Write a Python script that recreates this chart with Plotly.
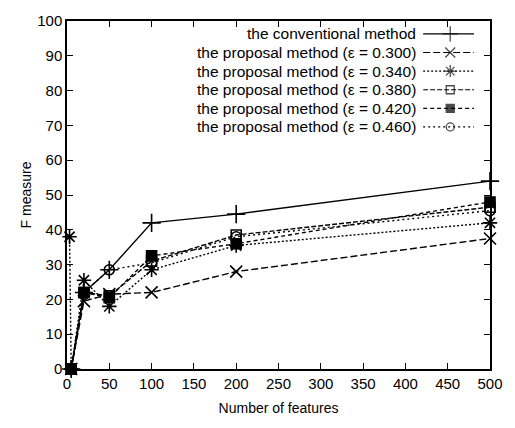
import plotly.graph_objects as go

# ---- data ----
x_features = [5, 20, 50, 100, 200, 500]
conventional = [0, 22, 28.5, 42, 44.5, 54]
eps_300 = [0, 19.5, 21.5, 22, 28, 37.5]
x_eps_340 = [3, 5, 20, 50, 100, 200, 500]
eps_340 = [38, 0, 25.5, 18, 28.5, 35.5, 42]
eps_380 = [0, 22, 21, 31, 38.5, 46.5]
eps_420 = [0, 22, 20.5, 32.5, 36, 48]
eps_460 = [0, 22, 28.5, 30.5, 38, 45.5]

names = [
    "the conventional method",
    "the proposal method (ε = 0.300)",
    "the proposal method (ε = 0.340)",
    "the proposal method (ε = 0.380)",
    "the proposal method (ε = 0.420)",
    "the proposal method (ε = 0.460)",
]
x_ticks = [0, 50, 100, 150, 200, 250, 300, 350, 400, 450, 500]
y_ticks = [0, 10, 20, 30, 40, 50, 60, 70, 80, 90, 100]

series = [
    (x_features, conventional, "cross-thin-open", 13, "solid"),
    (x_features, eps_300, "x-thin-open", 12, "7px,3px"),
    (x_eps_340, eps_340, "asterisk-open", 12, "2px,2px"),
    (x_features, eps_380, "square-open", 10, "5px,2px"),
    (x_features, eps_420, "square", 10, "4px,3px"),
    (x_features, eps_460, "circle-open", 10, "2px,3px"),
]

FONT = "Liberation Sans, Arial, Helvetica, sans-serif"
fig = go.Figure()

for (xs, ys, sym, size, dash), name in zip(series, names):
    fig.add_trace(go.Scatter(
        x=xs, y=ys, mode="lines+markers", name=name,
        line=dict(color="black", width=1.4, dash=dash),
        marker=dict(symbol=sym, size=size, color="black",
                    line=dict(color="black", width=1.6)),
        cliponaxis=False, showlegend=False,
    ))

# ---- custom legend (text right-aligned, sample on the right, like gnuplot) ----
row0 = 0.963
dy = 0.0535
for i, ((xs, ys, sym, size, dash), name) in enumerate(zip(series, names)):
    yy = row0 - i * dy
    fig.add_trace(go.Scatter(
        x=[0.842, 0.906, 0.962], y=[yy, yy, yy], mode="lines+markers",
        xaxis="x2", yaxis="y2", showlegend=False, hoverinfo="skip",
        line=dict(color="black", width=1.2, dash=dash),
        marker=dict(symbol=sym, size=[0, size - 2, 0], color="black",
                    line=dict(color="black", width=1.3)),
    ))
    fig.add_annotation(
        x=0.83, y=yy, xref="paper", yref="paper", text=name,
        showarrow=False, xanchor="right", yanchor="middle",
        font=dict(family=FONT, size=15.5, color="black"),
    )

fig.update_layout(
    width=515, height=428,
    margin=dict(l=67, r=22, t=14, b=59),
    paper_bgcolor="white", plot_bgcolor="white",
    font=dict(family=FONT, size=15, color="black"),
    showlegend=False,
    xaxis=dict(
        range=[0, 500], tickvals=x_ticks, ticktext=[str(v) for v in x_ticks],
        ticks="inside", ticklen=6, tickwidth=1.2, tickcolor="black",
        showline=True, linecolor="black", linewidth=1.5, mirror="ticks",
        showgrid=False, zeroline=False,
        title=dict(text="Number of features", font=dict(size=14), standoff=12),
    ),
    yaxis=dict(
        range=[0, 100], tickvals=y_ticks, ticktext=[str(v) for v in y_ticks],
        ticks="inside", ticklen=6, tickwidth=1.2, tickcolor="black",
        showline=True, linecolor="black", linewidth=1.5, mirror="ticks",
        showgrid=False, zeroline=False,
        title=dict(text="F measure", font=dict(size=14), standoff=2),
    ),
    xaxis2=dict(range=[0, 1], overlaying="x", visible=False, fixedrange=True),
    yaxis2=dict(range=[0, 1], overlaying="y", visible=False, fixedrange=True),
)

fig.write_html(
    "out.html",
    config={"displayModeBar": False},
    post_script="document.body.style.margin='0px';document.body.style.padding='0px';",
)
